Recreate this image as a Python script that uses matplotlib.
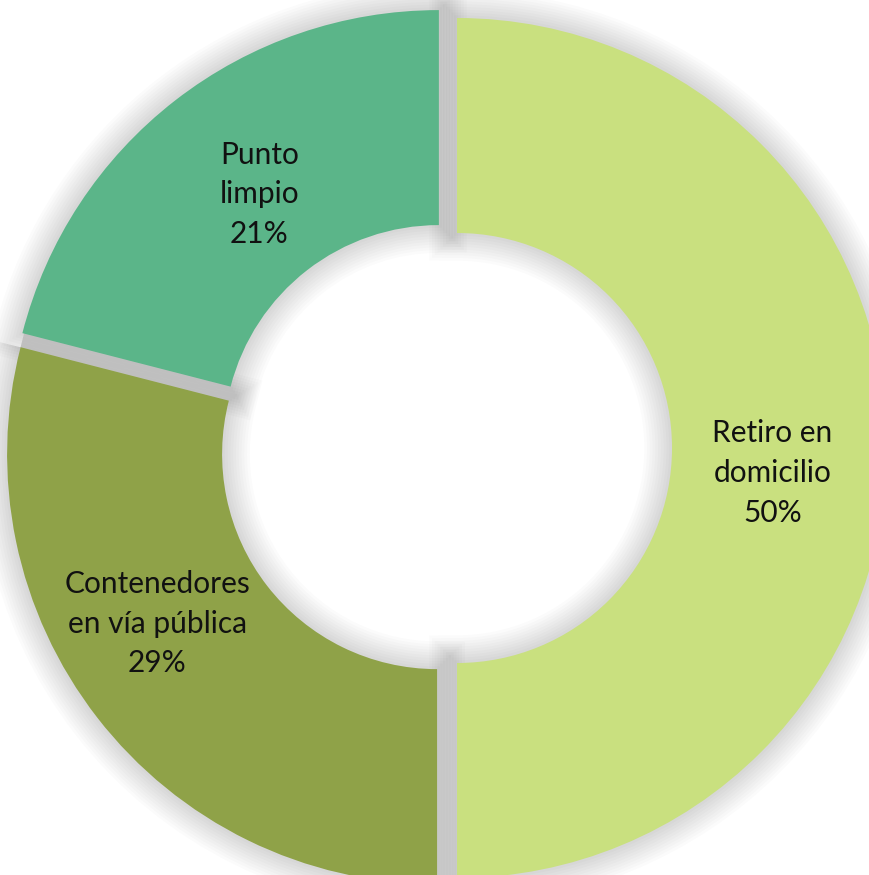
import matplotlib.pyplot as plt

categories = ['Retiro en\ndomicilio', 'Contenedores\nen vía pública', 'Punto\nlimpio']
shares = [50, 29, 21]
colors = ['#C9E07F', '#8FA248', '#5BB589']

fig = plt.figure(figsize=(8.7, 8.75), dpi=100)
ax = fig.add_axes([0, 0, 1, 1])
ax.set_xlim(0, 870)
ax.set_ylim(0, 875)
ax.set_aspect('equal')
ax.axis('off')

center = (445, 427)
radius = 430
# explode is in data units here (pixels)
explode = [12, 10, 10]

# soft shadow: stacked translucent strokes behind the wedges
for lw in range(40, 2, -4):
    ax.pie(shares, radius=radius, center=center, startangle=90, counterclock=False,
           explode=explode, colors=['none'] * 3,
           wedgeprops=dict(width=radius * 0.5, edgecolor=(0, 0, 0, 0.016), linewidth=lw))

labels = [f'{c}\n{v}%' for c, v in zip(categories, shares)]
wedges, texts = ax.pie(shares, radius=radius, center=center, startangle=90,
                       counterclock=False, explode=explode, colors=colors,
                       labels=labels, labeldistance=0.75,
                       wedgeprops=dict(width=radius * 0.5, edgecolor='none'),
                       textprops=dict(ha='center', va='center', fontsize=21.5,
                                      color='#111111', family='Lato', linespacing=1.5))

# nudge the labels the way the original places them
nudges = [(-7, -25), (-25, 28), (18, -9)]
for t, (dx, dy) in zip(texts, nudges):
    x, y = t.get_position()
    t.set_position((x + dx, y + dy))

ax.set_xlim(0, 870)
ax.set_ylim(0, 875)

fig.savefig('out.png', dpi=100)
